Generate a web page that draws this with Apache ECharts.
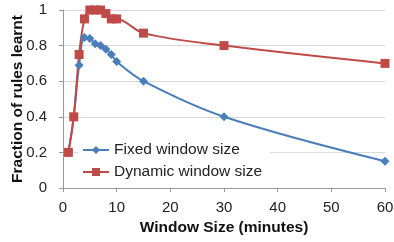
<!doctype html>
<html>
<head>
<meta charset="utf-8">
<script src="https://cdn.jsdelivr.net/npm/echarts@6/dist/echarts.min.js"></script>
<style>
    html, body { margin: 0; padding: 0; background: #fff; }
    #chart { width: 394px; height: 242px; }
</style>
</head>
<body>
<div id="chart"></div>
<script>
    // window sizes (minutes) and fraction of rules learnt
    let windowSizes = [1, 2, 3, 4, 5, 6, 7, 8, 9, 10, 15, 30, 60];
    let fixedValues = [0.2, 0.4, 0.69, 0.845, 0.84, 0.81, 0.8, 0.78, 0.75, 0.71, 0.6, 0.4, 0.15];
    let dynamicValues = [0.2, 0.4, 0.75, 0.95, 1.0, 1.0, 1.0, 0.98, 0.95, 0.95, 0.87, 0.8, 0.7];

    function pairs(xs, ys) {
        let out = [];
        for (let i = 0; i < xs.length; i++) {
            out.push([xs[i], ys[i]]);
        }
        return out;
    }

    let font = 'Liberation Sans';
    let chart = echarts.init(document.getElementById('chart'));
    chart.setOption({
        animation: false,
        grid: {left: 63, right: 9, top: 10, bottom: 54, outerBoundsMode: 'none'},
        legend: {
            orient: 'vertical',
            left: 78,
            top: 139,
            backgroundColor: '#fff',
            padding: [3, 8, 2, 4],
            itemGap: 6,
            itemWidth: 26,
            itemHeight: 10,
            textStyle: {fontFamily: font, fontSize: 15.5, color: '#222'},
            data: ['Fixed window size', 'Dynamic window size']
        },
        xAxis: {
            type: 'value',
            min: 0,
            max: 60,
            interval: 10,
            name: 'Window Size (minutes)',
            nameLocation: 'middle',
            nameGap: 32,
            nameMoveOverlap: false,
            nameTextStyle: {fontFamily: font, fontSize: 15.5, fontWeight: 'bold', color: '#111'},
            axisLine: {lineStyle: {color: '#999'}},
            axisTick: {show: true, length: 4, lineStyle: {color: '#999'}},
            axisLabel: {fontFamily: font, fontSize: 15, color: '#222', margin: 12},
            splitLine: {show: false}
        },
        yAxis: {
            type: 'value',
            min: 0,
            max: 1,
            interval: 0.2,
            name: 'Fraction of rules learnt',
            nameLocation: 'middle',
            nameGap: 37,
            nameMoveOverlap: false,
            nameTextStyle: {fontFamily: font, fontSize: 15.5, fontWeight: 'bold', color: '#111'},
            axisLine: {show: true, lineStyle: {color: '#999'}},
            axisTick: {show: true, length: 4, lineStyle: {color: '#999'}},
            axisLabel: {fontFamily: font, fontSize: 15, color: '#222', margin: 16},
            splitLine: {lineStyle: {color: '#d9d9d9'}}
        },
        series: [
            {
                name: 'Fixed window size',
                type: 'line',
                smooth: 0.35,
                data: pairs(windowSizes, fixedValues),
                symbol: 'diamond',
                symbolSize: 9,
                lineStyle: {width: 2, color: '#4a7ebb'},
                itemStyle: {color: '#4a7ebb'}
            },
            {
                name: 'Dynamic window size',
                type: 'line',
                smooth: 0.35,
                data: pairs(windowSizes, dynamicValues),
                symbol: 'rect',
                symbolSize: 9,
                lineStyle: {width: 2, color: '#be4b48'},
                itemStyle: {color: '#be4b48'}
            }
        ]
    });
</script>
</body>
</html>
